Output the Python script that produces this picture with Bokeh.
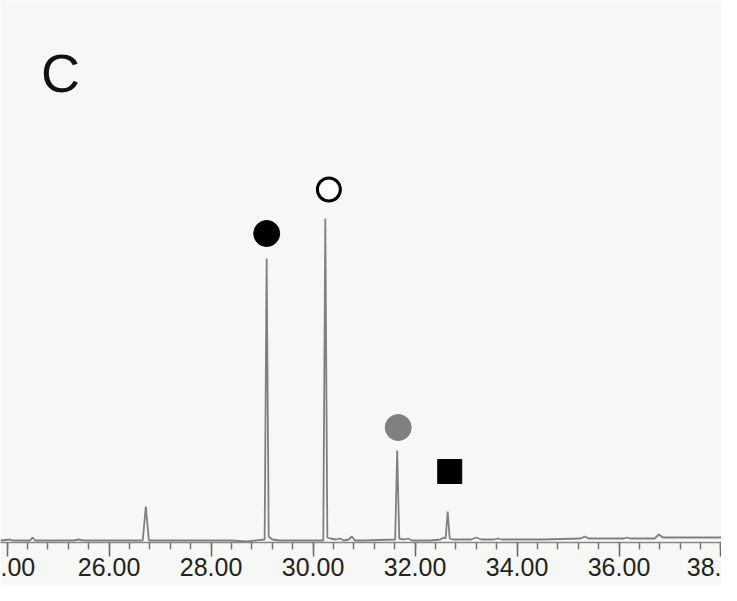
from bokeh.plotting import figure
from bokeh.models import Range1d, Label, SingleIntervalTicker, NumeralTickFormatter
from bokeh.embed import file_html
from bokeh.resources import INLINE

# retention time (min) and detector signal
rt = [23.87, 24.06, 24.10, 24.30, 24.45, 24.50, 24.55, 24.80, 25.30, 25.40,
      25.50, 26.00, 26.66, 26.72, 26.78, 27.50, 28.00, 28.40,
      28.70, 29.05, 29.09, 29.13, 29.20, 29.35, 29.70, 30.20, 30.24, 30.28,
      30.34, 30.45, 30.53, 30.60, 30.70, 30.76, 30.82, 31.00, 31.61, 31.65,
      31.69, 31.78, 31.86, 31.94, 32.30, 32.50, 32.56, 32.60, 32.64, 32.68,
      32.74, 33.10, 33.20, 33.30, 33.55, 33.62, 33.70, 34.50, 35.25, 35.33,
      35.40, 36.10, 36.16, 36.22, 36.70, 36.78, 36.86, 37.50, 38.01]
signal = [2, 3, 2, 2, 2, 5, 2, 2, 2, 3,
          2, 2, 2, 36, 2, 2, 2, 2,
          1, 3, 284, 6, 3, 2, 2, 2, 324, 5,
          4, 3, 4, 2, 3, 6, 2, 2, 3, 92,
          4, 3, 4, 2, 2, 3, 5, 4, 31, 4,
          3, 3, 5, 3, 3, 4, 3, 3, 4, 6,
          4, 4, 5, 4, 4, 8, 5, 5, 5]

# x ticks: the first and last tick labels are cut by the page edge
tick_text = {24: ".00", 38: "38."}

# peak labels
mark_rt = {"black": 29.09, "open": 30.31, "grey": 31.67, "square": 32.68}
mark_y = {"black": 309, "open": 353, "grey": 115, "square": 71}

bg = "#f7f7f6"

p = figure(width=721, height=585, output_backend="svg", toolbar_location=None,
           x_range=Range1d(23.87, 38.01), y_range=Range1d(0, 542),
           y_axis_location=None, min_border=0, min_border_bottom=43)
p.background_fill_color = bg
p.border_fill_color = bg
p.outline_line_color = None
p.grid.visible = False

p.line(rt, signal, line_color="#808080", line_width=1.8)

p.scatter([mark_rt["black"]], [mark_y["black"]], marker="circle", size=26,
          fill_color="black", line_color="black")
p.scatter([mark_rt["open"]], [mark_y["open"]], marker="circle", size=23,
          fill_color="white", line_color="black", line_width=3)
p.scatter([mark_rt["grey"]], [mark_y["grey"]], marker="circle", size=26,
          fill_color="#808080", line_color="#808080")
p.scatter([mark_rt["square"]], [mark_y["square"]], marker="square", size=24,
          fill_color="black", line_color="black")

p.add_layout(Label(x=60, y=470, x_units="screen", y_units="screen", text="C",
                   text_font="Liberation Sans", text_font_size="54px",
                   text_align="center", text_baseline="middle", text_color="#111"))

ax = p.xaxis[0]
ax.ticker = SingleIntervalTicker(interval=2, num_minor_ticks=5)
ax.formatter = NumeralTickFormatter(format="0.00")
ax.major_label_overrides = tick_text
ax.axis_line_color = "#888888"
ax.axis_line_width = 1.5
ax.major_tick_line_color = "#666666"
ax.major_tick_line_width = 1.5
ax.minor_tick_line_color = "#777777"
ax.minor_tick_line_width = 1.5
ax.major_tick_out = 14
ax.major_tick_in = 0
ax.minor_tick_out = 7
ax.minor_tick_in = 0
ax.major_label_standoff = 1
ax.major_label_text_font = "Liberation Sans"
ax.major_label_text_font_size = "25px"
ax.major_label_text_color = "#222222"

open("out.html", "w").write(file_html(p, INLINE))
